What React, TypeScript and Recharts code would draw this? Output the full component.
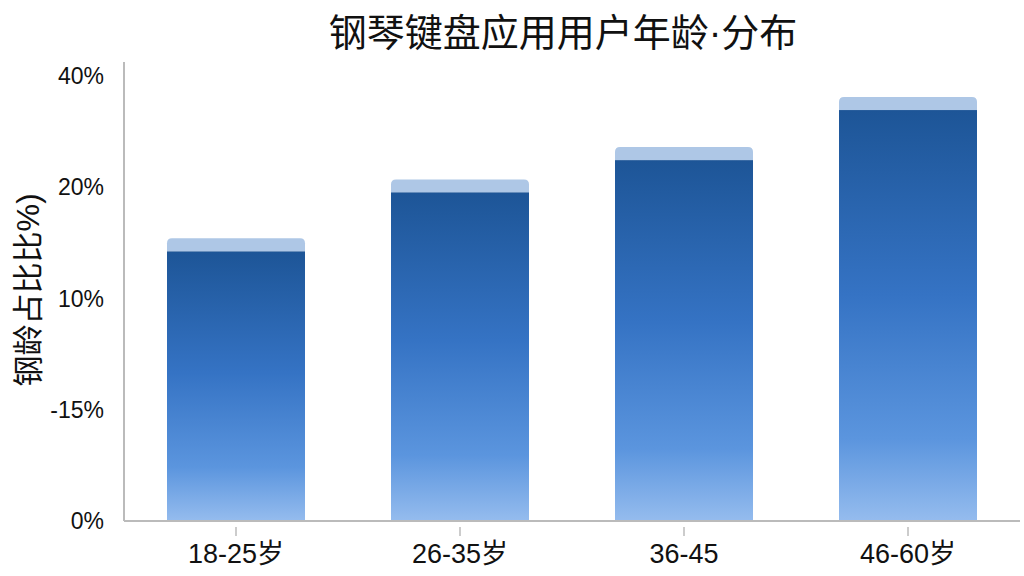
import React from "react";
import { BarChart, Bar, XAxis, YAxis } from "recharts";

const categories = ["18-25岁", "26-35岁", "36-45", "46-60岁"];
const shareValues = [2.54, 3.07, 3.36, 3.81];
const tickValues = [0, 1, 2, 3, 4];
const tickLabels = ["0%", "-15%", "10%", "20%", "40%"];
const title = "钢琴键盘应用用户年龄·分布";
const yLabel = "钢龄占比比%)";

const data = categories.map((c, i) => ({ name: c, value: shareValues[i] }));

const FONT = "'Liberation Sans', 'Noto Sans CJK SC', sans-serif";

const CappedBar = (props: any) => {
  const { x, y, width, height } = props;
  if (height <= 0) return null;
  const cap = 13;
  const r = 5;
  const capPath = `M${x},${y + cap} L${x},${y + r} Q${x},${y} ${x + r},${y} L${x + width - r},${y} Q${x + width},${y} ${x + width},${y + r} L${x + width},${y + cap} Z`;
  return (
    <g>
      <path d={capPath} fill="#aec7e6" />
      <rect x={x} y={y + cap} width={width} height={height - cap} fill="url(#barGrad)" />
    </g>
  );
};

const XTick = (props: any) => {
  const { x, y, payload } = props;
  return (
    <g>
      <line x1={x} y1={y} x2={x} y2={y + 9} stroke="#bbbbbb" strokeWidth={1.5} />
      <text x={x} y={y + 36} textAnchor="middle" fontSize={27} fill="#111" fontFamily={FONT}>
        {payload.value}
      </text>
    </g>
  );
};

export default function App() {
  return (
    <div style={{ position: "absolute", left: 0, top: 0, width: 1024, height: 576, background: "#fff" }}>
      <BarChart
        width={1024}
        height={576}
        data={data}
        margin={{ top: 62, right: 4, bottom: 0, left: 0 }}
        barCategoryGap={43}
      >
        <defs>
          <linearGradient id="barGrad" x1="0" y1="0" x2="0" y2="1">
            <stop offset="0%" stopColor="#1d5597" />
            <stop offset="45%" stopColor="#3573c4" />
            <stop offset="80%" stopColor="#5b95de" />
            <stop offset="100%" stopColor="#95bcee" />
          </linearGradient>
        </defs>
        <text x={563} y={46} textAnchor="middle" fontSize={38} fill="#111" fontFamily={FONT}>
          {title}
        </text>
        <text
          x={0}
          y={0}
          transform="translate(39,290) rotate(-90)"
          textAnchor="middle"
          fontSize={31}
          fill="#111"
          fontFamily={FONT}
        >
          {yLabel}
        </text>
        <XAxis
          dataKey="name"
          height={55}
          axisLine={{ stroke: "#bbbbbb", strokeWidth: 2 }}
          tickLine={false}
          tickMargin={0}
          tick={<XTick />}
          interval={0}
        />
        <YAxis
          width={124}
          domain={[0, 4.125]}
          ticks={tickValues}
          tickFormatter={(v: number) => tickLabels[tickValues.indexOf(v)]}
          axisLine={{ stroke: "#bbbbbb", strokeWidth: 2 }}
          tickLine={false}
          tickMargin={14}
          tick={{ fontSize: 23, fill: "#111", fontFamily: FONT }}
          interval={0}
        />
        <Bar dataKey="value" isAnimationActive={false} shape={<CappedBar />} />
      </BarChart>
    </div>
  );
}
